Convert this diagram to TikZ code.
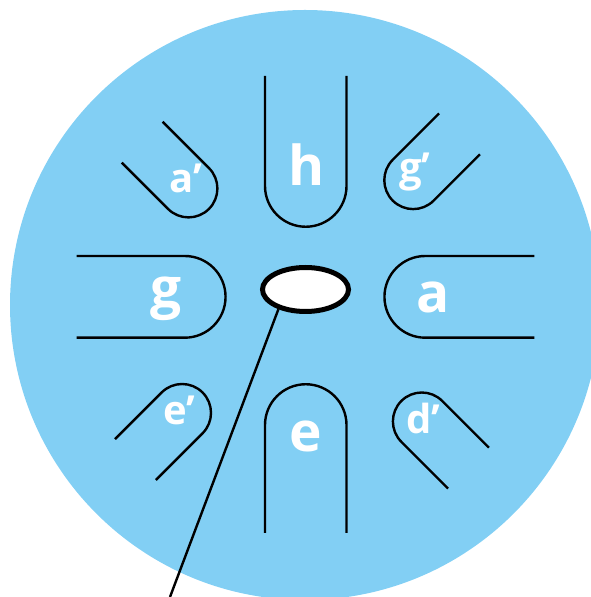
\documentclass[tikz,border=0pt]{standalone}
\usepackage{fontspec}
\setmainfont{Open Sans}
\usetikzlibrary{shapes.geometric}
\definecolor{drumblue}{RGB}{130,207,244}
\tikzset{
  fingerline/.style={draw=black, line width=2.4pt, line cap=butt},
  biglabel/.style={text=white, font=\fontsize{55}{60}\selectfont\bfseries, inner sep=0pt, anchor=base},
  smalllabel/.style={text=white, font=\fontsize{40}{44}\selectfont\bfseries, inner sep=0pt, anchor=base},
  holestyle/.style={ellipse, draw=black, fill=white, line width=5pt, minimum width=86pt, minimum height=44pt, inner sep=0pt},
  pointer/.style={draw=black, line width=2.4pt},
}
\begin{document}
\begin{tikzpicture}[x=1pt,y=1pt]
\useasboundingbox (0,0) rectangle (591,597);
\clip (0,0) rectangle (591,597);
\fill[drumblue] (305,292) circle[radius=295pt];
% big tongues
\draw[fingerline, shift={(305.75,411)}, rotate=90] (110,40.75) -- (0,40.75) arc[start angle=90,end angle=270,radius=40.75pt] -- (110,-40.75);
\draw[fingerline, shift={(305.75,172)}, rotate=270] (108,40.75) -- (0,40.75) arc[start angle=90,end angle=270,radius=40.75pt] -- (108,-40.75);
\draw[fingerline, shift={(184.7,300.15)}, rotate=180] (108,40.85) -- (0,40.85) arc[start angle=90,end angle=270,radius=40.85pt] -- (108,-40.85);
\draw[fingerline, shift={(425.3,300.15)}, rotate=0] (109,40.85) -- (0,40.85) arc[start angle=90,end angle=270,radius=40.85pt] -- (109,-40.85);
% small tongues
\draw[fingerline, shift={(188.5,408.5)}, rotate=135] (65.5,28.9) -- (0,28.9) arc[start angle=90,end angle=270,radius=28.9pt] -- (65.5,-28.9);
\draw[fingerline, shift={(413.2,416.8)}, rotate=45] (65.5,28.9) -- (0,28.9) arc[start angle=90,end angle=270,radius=28.9pt] -- (65.5,-28.9);
\draw[fingerline, shift={(182.1,184.1)}, rotate=225] (66,28.9) -- (0,28.9) arc[start angle=90,end angle=270,radius=28.9pt] -- (66,-28.9);
\draw[fingerline, shift={(421.8,175.6)}, rotate=315] (66,28.9) -- (0,28.9) arc[start angle=90,end angle=270,radius=28.9pt] -- (66,-28.9);
% labels
\node[biglabel] (lh) at (306.5,411) {h};
\node[biglabel] (lg) at (166,289) {g};
\node[biglabel] (la) at (433,284) {a};
\node[biglabel] (le) at (305.5,145) {e};
\node[smalllabel] (lap) at (186,404) {a’};
\node[smalllabel] (lgp) at (415,415) {g’};
\node[smalllabel] (lep) at (179,172) {e’};
\node[smalllabel] (ldp) at (423.5,163) {d’};
% centre hole and pointer
\node[holestyle] (hole) at (305.5,307.5) {};
\coordinate (ptrend) at (170,0);
\draw[pointer] (hole.216) -- (ptrend);
\end{tikzpicture}
\end{document}
